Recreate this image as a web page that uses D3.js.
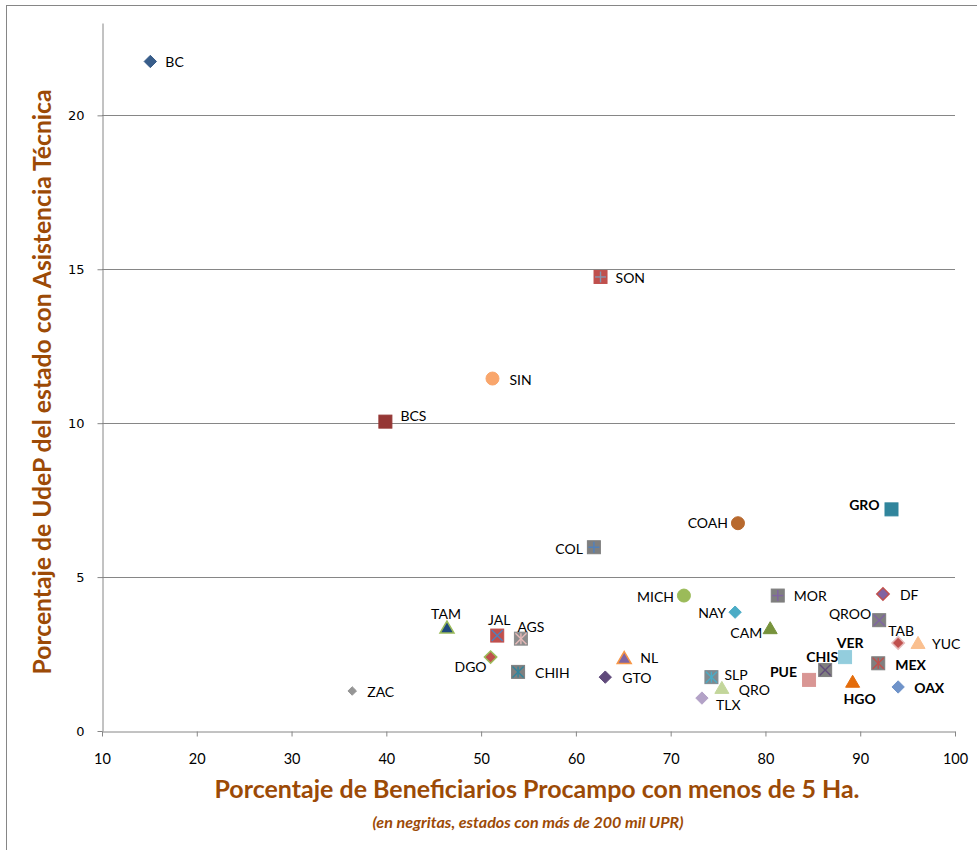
<!DOCTYPE html>
<html>
<head>
<meta charset="utf-8">
<script src="https://cdn.jsdelivr.net/npm/d3@7"></script>
<style>
  body { margin: 0; background: #fff; }
  svg { display: block; }
</style>
</head>
<body>
<svg id="chart" width="977" height="850"></svg>
<script>
// States and their values (x: % beneficiaries < 5 Ha, y: % UdeP with technical assistance)
const states = ['BC', 'SON', 'SIN', 'BCS', 'GRO', 'COAH', 'COL', 'MICH', 'MOR', 'DF',
  'NAY', 'QROO', 'CAM', 'TAM', 'JAL', 'AGS', 'TAB', 'YUC', 'VER', 'NL',
  'DGO', 'CHIS', 'MEX', 'CHIH', 'SLP', 'GTO', 'PUE', 'HGO', 'QRO', 'OAX',
  'TLX', 'ZAC'];
const xValues = [15.1, 62.6, 51.2, 39.9, 93.3, 77.1, 61.9, 71.4, 81.3, 92.4,
  76.8, 92.0, 80.5, 46.4, 51.7, 54.2, 94.0, 96.1, 88.4, 65.1,
  51.0, 86.3, 91.9, 53.9, 74.3, 63.1, 84.6, 89.2, 75.4, 94.0,
  73.3, 36.4];
const yValues = [21.75, 14.75, 11.45, 10.05, 7.2, 6.75, 5.97, 4.4, 4.4, 4.45,
  3.86, 3.6, 3.34, 3.36, 3.1, 3.0, 2.86, 2.86, 2.4, 2.37,
  2.4, 1.98, 2.2, 1.92, 1.75, 1.75, 1.66, 1.6, 1.4, 1.43,
  1.07, 1.3];
// states with more than 200 thousand UPR (bold labels)
const boldStates = ['GRO', 'VER', 'CHIS', 'PUE', 'MEX', 'HGO', 'OAX'];

const xTicks = [10, 20, 30, 40, 50, 60, 70, 80, 90, 100];
const yTicks = [0, 5, 10, 15, 20];

// Marker look for each state: shape, fill, stroke, inner glyph
const MARKERS = {
  BC:   { shape: 'diamond', fill: '#385d8a' },
  SON:  { shape: 'square', fill: '#c0504d', glyph: 'plus', glyphColor: '#8496b0' },
  SIN:  { shape: 'circle', fill: '#f9a66c' },
  BCS:  { shape: 'square', fill: '#953735' },
  GRO:  { shape: 'square', fill: '#31859c' },
  COAH: { shape: 'circle', fill: '#b8692e' },
  COL:  { shape: 'square', fill: '#7f7f7f', glyph: 'plus', glyphColor: '#4f81bd' },
  MICH: { shape: 'circle', fill: '#9bbb59' },
  MOR:  { shape: 'square', fill: '#7f7f7f', glyph: 'plus', glyphColor: '#8064a2' },
  DF:   { shape: 'diamond', fill: '#8064a2', stroke: '#c0504d' },
  NAY:  { shape: 'diamond', fill: '#4bacc6' },
  QROO: { shape: 'square', fill: '#7f7f7f', glyph: 'x', glyphColor: '#8064a2' },
  CAM:  { shape: 'triangle', fill: '#77933c' },
  TAM:  { shape: 'triangle', fill: '#1f497d', stroke: '#9bbb59' },
  JAL:  { shape: 'square', fill: '#c0504d', glyph: 'x', glyphColor: '#4f81bd' },
  AGS:  { shape: 'square', fill: '#8c8c8c', glyph: 'star', glyphColor: '#e6b9b8' },
  TAB:  { shape: 'diamond', fill: '#c0504d', stroke: '#e6b9b8' },
  YUC:  { shape: 'triangle', fill: '#fac090' },
  VER:  { shape: 'square', fill: '#93cddd' },
  NL:   { shape: 'triangle', fill: '#8064a2', stroke: '#f79646' },
  DGO:  { shape: 'diamond', fill: '#c0504d', stroke: '#9bbb59' },
  CHIS: { shape: 'square', fill: '#7f7f7f', glyph: 'x', glyphColor: '#604a7b' },
  MEX:  { shape: 'square', fill: '#7f7f7f', glyph: 'star', glyphColor: '#c0504d' },
  CHIH: { shape: 'square', fill: '#7f7f7f', glyph: 'star', glyphColor: '#31859c' },
  SLP:  { shape: 'square', fill: '#7f8a90', glyph: 'star', glyphColor: '#4bacc6' },
  GTO:  { shape: 'diamond', fill: '#604a7b' },
  PUE:  { shape: 'square', fill: '#d99694' },
  HGO:  { shape: 'triangle', fill: '#e46c0a' },
  QRO:  { shape: 'triangle', fill: '#c3d69b' },
  OAX:  { shape: 'diamond', fill: '#6f93c9' },
  TLX:  { shape: 'diamond', fill: '#b3a2c7' },
  ZAC:  { shape: 'diamond', fill: '#959595', size: 9 },
};

// Label placement relative to the marker [dx, dy, anchor]
const LABEL_POS = {
  BC: [15, 1, 'start'], SON: [15, 1, 'start'], SIN: [17, 2, 'start'],
  BCS: [15, -6, 'start'], GRO: [-12, -4, 'end'], COAH: [-10, 0, 'end'],
  COL: [-11, 2, 'end'], MICH: [-10, 2, 'end'], MOR: [16, 1, 'start'],
  DF: [17, 1, 'start'], NAY: [-9, 1, 'end'], QROO: [-8, -6, 'end'],
  CAM: [-8, 5, 'end'], TAM: [-1, -13, 'middle'], JAL: [2, -15, 'middle'],
  AGS: [10, -12, 'middle'], TAB: [3, -12, 'middle'], YUC: [14, 1, 'start'],
  VER: [5, -14, 'middle'], NL: [16, 0, 'start'], DGO: [-4, 10, 'end'],
  CHIS: [-3, -13, 'middle'], MEX: [17, 2, 'start'], CHIH: [17, 1, 'start'],
  SLP: [13, -2, 'start'], GTO: [17, 1, 'start'], PUE: [-12, -8, 'end'],
  HGO: [7, 17, 'middle'], QRO: [17, 2, 'start'], OAX: [16, 1, 'start'],
  TLX: [14, 7, 'start'], ZAC: [15, 1, 'start'],
};

const points = states.map((s, i) => ({
  id: s, x: xValues[i], y: yValues[i], bold: boldStates.includes(s),
}));

const svg = d3.select('#chart');
const TITLE_COLOR = '#9c4a06';
const LABEL_FONT = 'Lato, "Open Sans", sans-serif';

// outer frame (chart area border)
svg.append('rect')
  .attr('x', 6.5).attr('y', 5.5)
  .attr('width', 990).attr('height', 900)
  .attr('fill', 'none').attr('stroke', '#868686');

const x = d3.scaleLinear().domain([10, 100]).range([102, 955]);
const y = d3.scaleLinear().domain([0, 23]).range([731, 23]);

// horizontal gridlines
svg.append('g')
  .selectAll('line')
  .data(yTicks.filter((t) => t > 0))
  .join('line')
  .attr('x1', x(10)).attr('x2', x(100))
  .attr('y1', (d) => Math.round(y(d)) + 0.5)
  .attr('y2', (d) => Math.round(y(d)) + 0.5)
  .attr('stroke', '#868686');

// x axis
const xAxis = svg.append('g')
  .attr('transform', `translate(0,${Math.round(y(0)) + 0.5})`)
  .call(d3.axisBottom(x).tickValues(xTicks).tickSize(5).tickSizeOuter(0).tickPadding(17));
xAxis.select('.domain').attr('stroke', '#868686');
xAxis.selectAll('.tick line').attr('stroke', '#868686');
xAxis.selectAll('.tick text')
  .attr('font-family', LABEL_FONT).attr('font-size', 14.5).attr('fill', '#000');

// y axis
const yAxis = svg.append('g')
  .attr('transform', `translate(${Math.round(x(10)) + 0.5},0)`)
  .call(d3.axisLeft(y).tickValues(yTicks).tickSize(5).tickSizeOuter(0).tickPadding(13));
yAxis.select('.domain').attr('stroke', '#868686');
yAxis.selectAll('.tick line').attr('stroke', '#868686');
yAxis.selectAll('.tick text')
  .attr('font-family', '"DejaVu Sans", Verdana, sans-serif').attr('font-size', 13).attr('fill', '#000');

// axis titles
svg.append('text')
  .attr('x', 537).attr('y', 798)
  .attr('text-anchor', 'middle')
  .attr('font-family', LABEL_FONT).attr('font-weight', 'bold').attr('font-size', 24)
  .attr('textLength', 645).attr('lengthAdjust', 'spacingAndGlyphs')
  .attr('fill', TITLE_COLOR)
  .text('Porcentaje de Beneficiarios Procampo con menos de 5 Ha.');

svg.append('text')
  .attr('x', 528).attr('y', 828)
  .attr('text-anchor', 'middle')
  .attr('font-family', LABEL_FONT).attr('font-weight', 'bold').attr('font-style', 'italic')
  .attr('font-size', 14.5).attr('fill', TITLE_COLOR)
  .attr('textLength', 311).attr('lengthAdjust', 'spacingAndGlyphs')
  .text('(en negritas, estados con más de 200 mil UPR)');

svg.append('text')
  .attr('transform', 'translate(51,382) rotate(-90)')
  .attr('text-anchor', 'middle')
  .attr('font-family', LABEL_FONT).attr('font-weight', 'bold').attr('font-size', 24)
  .attr('textLength', 585).attr('lengthAdjust', 'spacingAndGlyphs')
  .attr('fill', TITLE_COLOR)
  .text('Porcentaje de UdeP del estado con Asistencia Técnica');

// Draw a marker for a point
function drawMarker(g, m) {
  const s = m.size || 13;
  const h = s / 2;
  let shape;
  if (m.shape === 'square') {
    shape = g.append('rect').attr('x', -h).attr('y', -h).attr('width', s).attr('height', s);
  } else if (m.shape === 'circle') {
    shape = g.append('circle').attr('r', h);
  } else if (m.shape === 'diamond') {
    const d = h * 0.95;
    shape = g.append('path').attr('d', `M0,${-d}L${d},0L0,${d}L${-d},0Z`);
  } else {
    shape = g.append('path').attr('d', `M0,${-h}L${h + 0.5},${h - 1}L${-h - 0.5},${h - 1}Z`);
  }
  shape.attr('fill', m.fill)
    .attr('stroke', m.stroke || m.fill)
    .attr('stroke-width', m.stroke ? 1.5 : 1);

  if (!m.glyph) return;
  const r = h - 1;
  const lines = [];
  if (m.glyph === 'plus' || m.glyph === 'star') lines.push([0, -r, 0, r]);
  if (m.glyph === 'plus') lines.push([-r, 0, r, 0]);
  if (m.glyph === 'x' || m.glyph === 'star') {
    lines.push([-r, -r, r, r], [-r, r, r, -r]);
  }
  g.selectAll('line.glyph')
    .data(lines)
    .join('line')
    .attr('class', 'glyph')
    .attr('x1', (d) => d[0]).attr('y1', (d) => d[1])
    .attr('x2', (d) => d[2]).attr('y2', (d) => d[3])
    .attr('stroke', m.glyphColor).attr('stroke-width', 1.4);
}

const pts = svg.append('g')
  .selectAll('g.pt')
  .data(points)
  .join('g')
  .attr('class', 'pt')
  .attr('transform', (d) => `translate(${x(d.x)},${y(d.y)})`);

pts.each(function(d) {
  drawMarker(d3.select(this), MARKERS[d.id]);
});

// labels
pts.append('text')
  .attr('x', (d) => LABEL_POS[d.id][0])
  .attr('y', (d) => LABEL_POS[d.id][1])
  .attr('dy', '0.35em')
  .attr('text-anchor', (d) => LABEL_POS[d.id][2])
  .attr('font-family', LABEL_FONT)
  .attr('font-size', 14)
  .attr('font-weight', (d) => d.bold ? 'bold' : 'normal')
  .attr('fill', '#000')
  .text((d) => d.id);
</script>
</body>
</html>
